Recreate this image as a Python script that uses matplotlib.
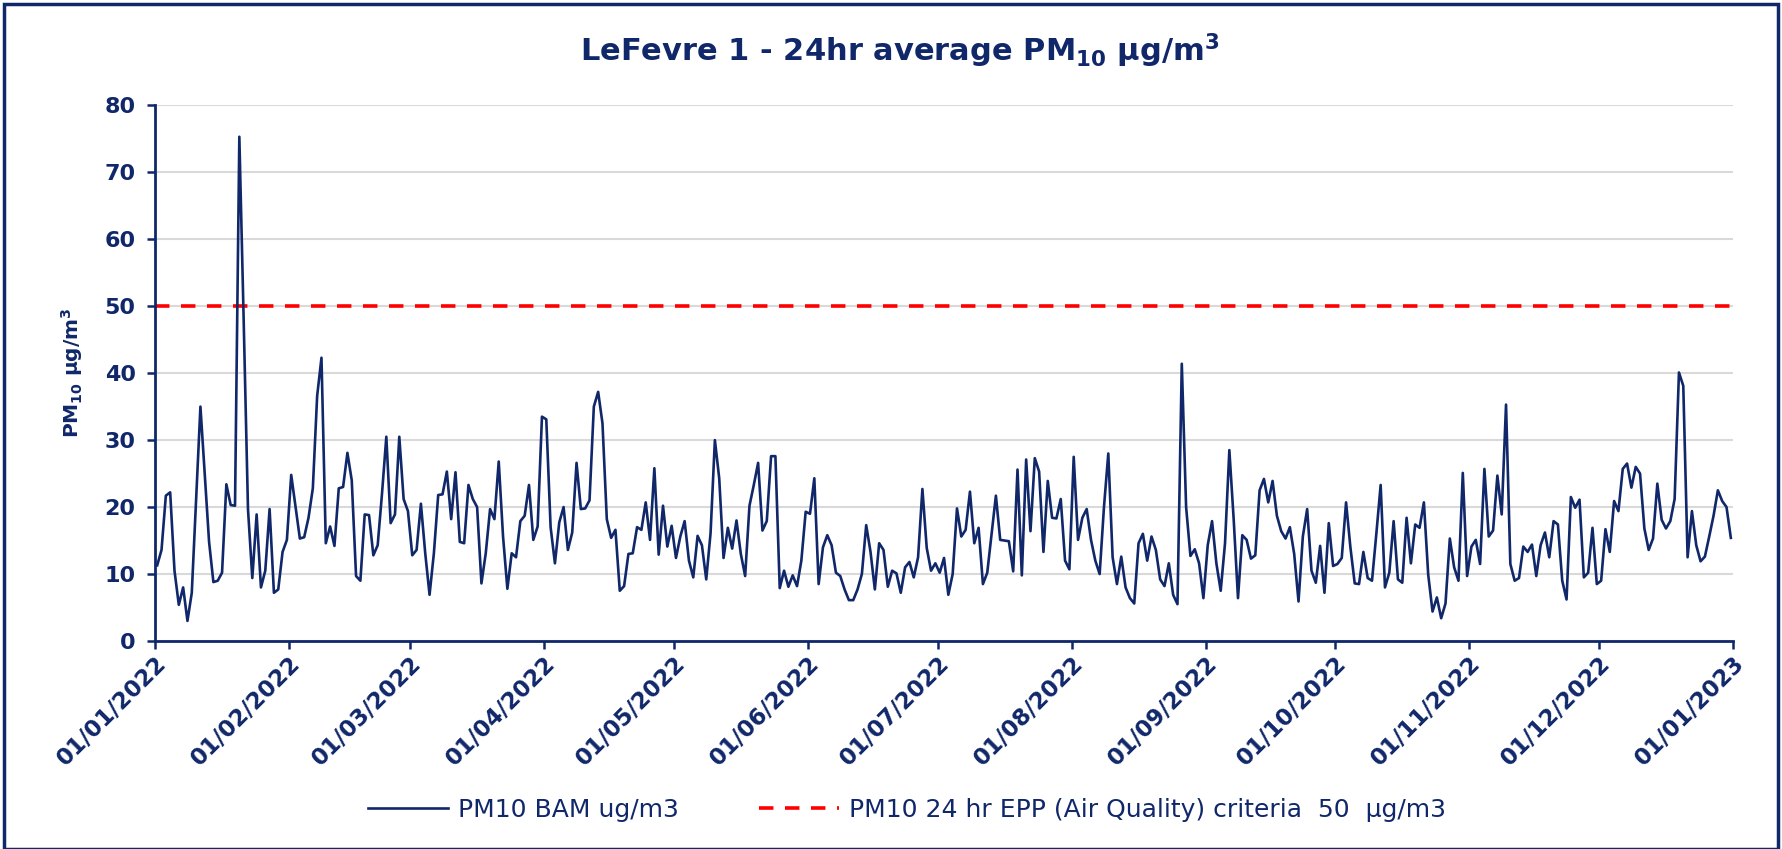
import numpy as np
import pandas as pd
import matplotlib
matplotlib.use("Agg")
import matplotlib.pyplot as plt
import matplotlib.dates as mdates
from matplotlib.patches import Rectangle

# daily PM10 values, 01/01/2022 .. 31/12/2022
pm10 = [
    11.3, 13.6, 21.7, 22.2, 10.5, 5.4, 8.0, 3.0, 7.2, 21.0,
    35.0, 25.0, 14.8, 8.8, 9.0, 10.2, 23.4, 20.3, 20.2, 75.3,
    48.0, 19.7, 9.4, 18.9, 8.0, 10.5, 19.7, 7.2, 7.7, 13.3,
    15.1, 24.8, 20.0, 15.3, 15.5, 18.4, 22.8, 36.6, 42.3, 14.6,
    17.1, 14.2, 22.8, 23.0, 28.1, 24.0, 9.7, 9.0, 18.9, 18.8,
    12.8, 14.3, 22.0, 30.5, 17.6, 18.9, 30.5, 21.2, 19.4, 12.8,
    13.6, 20.5, 13.1, 6.9, 13.1, 21.8, 21.9, 25.3, 18.2, 25.2,
    14.8, 14.6, 23.3, 21.2, 20.0, 8.6, 13.1, 19.7, 18.2, 26.8,
    15.6, 7.8, 13.1, 12.5, 17.9, 18.7, 23.3, 15.1, 17.1, 33.5,
    33.1, 17.0, 11.6, 17.7, 20.0, 13.6, 16.2, 26.6, 19.7, 19.8,
    21.0, 35.0, 37.2, 32.5, 18.2, 15.4, 16.6, 7.5, 8.2, 13.0,
    13.1, 17.0, 16.6, 20.7, 15.1, 25.8, 12.9, 20.2, 14.1, 17.2,
    12.4, 15.6, 17.9, 12.0, 9.5, 15.7, 14.3, 9.2, 16.1, 30.0,
    24.3, 12.4, 16.9, 13.8, 18.0, 13.0, 9.7, 20.2, 23.3, 26.6,
    16.5, 17.9, 27.6, 27.6, 7.9, 10.5, 8.1, 9.8, 8.2, 12.0,
    19.3, 19.0, 24.3, 8.5, 14.0, 15.8, 14.3, 10.2, 9.7, 7.7,
    6.1, 6.1, 7.7, 10.0, 17.3, 13.3, 7.7, 14.6, 13.6, 8.1,
    10.5, 10.1, 7.2, 11.0, 11.8, 9.5, 12.5, 22.7, 13.9, 10.5,
    11.6, 10.2, 12.4, 6.9, 10.0, 19.8, 15.6, 16.6, 22.3, 14.6,
    16.9, 8.5, 10.2, 16.0, 21.7, 15.1, 15.0, 14.9, 10.4, 25.6,
    9.8, 27.1, 16.4, 27.3, 25.3, 13.3, 23.9, 18.4, 18.3, 21.2,
    12.0, 10.7, 27.5, 15.1, 18.4, 19.7, 15.1, 12.0, 10.0, 20.0,
    28.0, 12.5, 8.5, 12.6, 8.0, 6.4, 5.6, 14.6, 16.0, 12.0,
    15.6, 13.6, 9.2, 8.2, 11.6, 6.9, 5.5, 41.4, 20.0, 12.7,
    13.7, 11.6, 6.4, 14.3, 17.9, 11.6, 7.5, 14.6, 28.5, 18.2,
    6.4, 15.8, 15.1, 12.3, 12.8, 22.5, 24.2, 20.7, 23.9, 18.7,
    16.4, 15.3, 17.0, 13.0, 5.9, 15.6, 19.7, 10.5, 8.7, 14.2,
    7.2, 17.6, 11.2, 11.5, 12.4, 20.7, 14.0, 8.6, 8.5, 13.3,
    9.4, 9.0, 16.0, 23.3, 8.0, 10.2, 17.9, 9.2, 8.7, 18.4,
    11.6, 17.4, 16.9, 20.7, 9.9, 4.4, 6.5, 3.4, 5.6, 15.3,
    11.0, 9.0, 25.1, 9.7, 14.1, 15.1, 11.5, 25.7, 15.6, 16.5,
    24.7, 18.9, 35.3, 11.5, 9.0, 9.4, 14.1, 13.3, 14.4, 9.7,
    14.3, 16.2, 12.5, 17.9, 17.4, 9.0, 6.2, 21.5, 19.9, 21.1,
    9.5, 10.2, 16.9, 8.5, 9.0, 16.7, 13.3, 20.9, 19.4, 25.7,
    26.5, 22.9, 26.0, 25.0, 16.8, 13.6, 15.3, 23.5, 18.1, 16.8,
    17.9, 21.2, 40.1, 38.1, 12.5, 19.4, 14.3, 11.9, 12.6, 15.6,
    18.7, 22.5, 20.9, 20.0, 15.4,
]
criteria = 50
y_ticks = [0, 10, 20, 30, 40, 50, 60, 70, 80]

navy = "#10276a"
dates = pd.date_range("2022-01-01 12:00", periods=len(pm10), freq="D")

plt.rcParams["font.family"] = ["DejaVu Sans"]
plt.rcParams["mathtext.fontset"] = "dejavusans"

fig = plt.figure(figsize=(17.82, 8.49), dpi=100)
ax = fig.add_axes([0.087, 0.245, 0.8855, 0.631])

ax.plot(dates, pm10, color=navy, lw=1.9, label="PM10 BAM ug/m3", zorder=3)
ax.axhline(criteria, color="red", lw=2.6, ls=(0, (4, 3.2)),
           label="PM10 24 hr EPP (Air Quality) criteria  50  \u00b5g/m3", zorder=2)

ax.set_xlim(pd.Timestamp("2022-01-01"), pd.Timestamp("2023-01-01"))
ax.set_ylim(0, 80)
ax.set_yticks(y_ticks)
ax.xaxis.set_major_locator(mdates.MonthLocator())
ax.xaxis.set_major_formatter(mdates.DateFormatter("%d/%m/%Y"))

ax.grid(axis="y", color="#d9d9d9", lw=1.5, zorder=0)
for s in ["top", "right"]:
    ax.spines[s].set_visible(False)
for s in ["left", "bottom"]:
    ax.spines[s].set_color(navy)
    ax.spines[s].set_linewidth(2)

ax.tick_params(axis="both", colors=navy, width=1.8, length=6)
ax.tick_params(axis="y", labelsize=16, pad=8)
ax.tick_params(axis="x", labelsize=16.5, pad=2)
for lab in ax.get_yticklabels():
    lab.set_fontweight("bold")
for lab in ax.get_xticklabels():
    lab.set_fontweight("bold")
    lab.set_rotation(45)
    lab.set_ha("right")
    lab.set_rotation_mode("anchor")

ax.set_ylabel("PM$_{\\mathbf{10}}$ \u00b5g/m$^{\\mathbf{3}}$", color=navy, fontsize=14.5,
              fontweight="bold", labelpad=14)

fig.text(0.505, 0.94, "LeFevre 1 - 24hr average PM$_{\\mathbf{10}}$ \u00b5g/m$^{\\mathbf{3}}$",
         ha="center", va="center", color=navy, fontsize=22, fontweight="bold")

leg = fig.legend(loc="center", bbox_to_anchor=(0.509, 0.046), ncol=2, frameon=False,
                 fontsize=18, handlelength=3.2, handletextpad=0.4, columnspacing=3.2)
for t in leg.get_texts():
    t.set_color(navy)

fig.patches.append(Rectangle((0.002, 0.0), 0.996, 0.995, transform=fig.transFigure,
                             fill=False, edgecolor=navy, lw=2.5))

fig.savefig("out.png", dpi=100, facecolor="white")
